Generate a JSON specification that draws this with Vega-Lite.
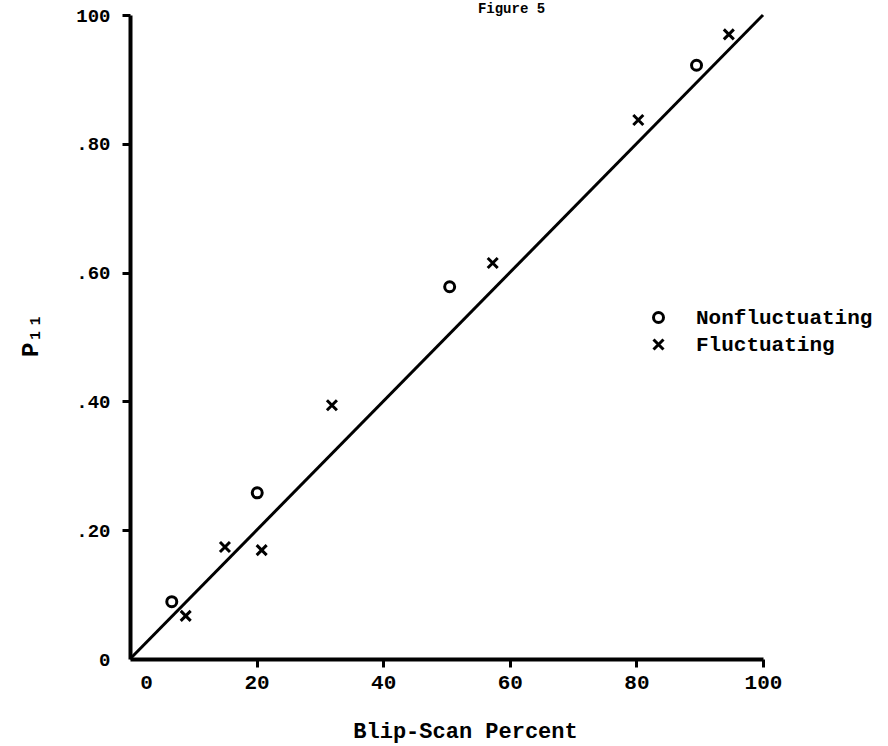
{
  "$schema": "https://vega.github.io/schema/vega-lite/v6.json",
  "width": 633,
  "height": 644,
  "autosize": {"type": "none"},
  "padding": {"left": 130, "top": 15, "right": 125, "bottom": 87},
  "background": "white",
  "config": {
    "view": {"stroke": null},
    "font": "Liberation Mono"
  },
  "title": {
    "text": "Figure 5",
    "anchor": "middle",
    "frame": "group",
    "dx": 65,
    "dy": 0,
    "offset": -21,
    "baseline": "alphabetic",
    "font": "Liberation Mono",
    "fontSize": 14,
    "fontWeight": "bold",
    "color": "black"
  },
  "datasets": {
    "points": [
      {"blip": 6.6, "p11": 0.089, "type": "Nonfluctuating"},
      {"blip": 20.1, "p11": 0.258, "type": "Nonfluctuating"},
      {"blip": 50.5, "p11": 0.578, "type": "Nonfluctuating"},
      {"blip": 89.5, "p11": 0.922, "type": "Nonfluctuating"},
      {"blip": 8.8, "p11": 0.067, "type": "Fluctuating"},
      {"blip": 15.0, "p11": 0.174, "type": "Fluctuating"},
      {"blip": 20.8, "p11": 0.169, "type": "Fluctuating"},
      {"blip": 31.9, "p11": 0.394, "type": "Fluctuating"},
      {"blip": 57.3, "p11": 0.615, "type": "Fluctuating"},
      {"blip": 80.3, "p11": 0.837, "type": "Fluctuating"},
      {"blip": 94.6, "p11": 0.970, "type": "Fluctuating"}
    ],
    "fit": [
      {"blip": 0, "p11": 0},
      {"blip": 100, "p11": 1.0}
    ]
  },
  "layer": [
    {
      "data": {"name": "fit"},
      "mark": {"type": "line", "color": "black", "strokeWidth": 3},
      "encoding": {
        "x": {"field": "blip", "type": "quantitative"},
        "y": {"field": "p11", "type": "quantitative"}
      }
    },
    {
      "data": {"name": "points"},
      "mark": {"type": "point", "filled": false, "color": "black", "strokeWidth": 3, "size": 100, "opacity": 1},
      "encoding": {
        "x": {
          "field": "blip",
          "type": "quantitative",
          "scale": {"domain": [0, 100], "nice": false, "zero": false},
          "axis": {
            "values": [0, 20, 40, 60, 80, 100],
            "title": "Blip-Scan Percent",
            "titleFont": "Liberation Mono",
            "titleFontSize": 22,
            "titleFontWeight": "bold",
            "titleColor": "black",
            "titleX": 335,
            "titleY": 78,
            "titleBaseline": "alphabetic",
            "grid": false,
            "domainColor": "black",
            "domainWidth": 4,
            "tickColor": "black",
            "tickWidth": 3,
            "tickSize": 8,
            "tickOpacity": {"condition": {"test": "datum.value == 0", "value": 0}, "value": 1},
            "labelFont": "Liberation Mono",
            "labelFontSize": 21,
            "labelFontWeight": "bold",
            "labelColor": "black",
            "labelPadding": 4,
            "labelOffset": {"condition": {"test": "datum.value == 0", "value": 16}, "value": 0},
            "labelFlush": false,
            "labelOverlap": false
          }
        },
        "y": {
          "field": "p11",
          "type": "quantitative",
          "scale": {"domain": [0, 1], "nice": false, "zero": false},
          "axis": {
            "values": [0, 0.2, 0.4, 0.6, 0.8, 1],
            "labelExpr": "datum.value == 1 ? '100' : datum.value == 0 ? '0' : replace(format(datum.value, '.2f'), '0.', '.')",
            "title": "P₁₁",
            "titleFont": "Liberation Mono",
            "titleFontSize": 24,
            "titleFontWeight": "bold",
            "titleColor": "black",
            "titleAngle": -90,
            "titleX": -100,
            "titleY": 320,
            "titleBaseline": "middle",
            "titleAlign": "center",
            "grid": false,
            "domainColor": "black",
            "domainWidth": 4,
            "tickColor": "black",
            "tickWidth": 3,
            "tickSize": 8,
            "tickOpacity": {"condition": {"test": "datum.value == 0", "value": 0}, "value": 1},
            "labelFont": "Liberation Mono",
            "labelFontSize": 19,
            "labelFontWeight": "bold",
            "labelColor": "black",
            "labelPadding": 12,
            "labelFlush": false,
            "labelOverlap": false
          }
        },
        "shape": {
          "field": "type",
          "type": "nominal",
          "scale": {
            "domain": ["Nonfluctuating", "Fluctuating"],
            "range": ["circle", "M-1,-1L1,1M-1,1L1,-1"]
          },
          "legend": {
            "title": null,
            "orient": "none",
            "legendX": 518,
            "legendY": 292,
            "labelFont": "Liberation Mono",
            "labelFontSize": 21,
            "labelFontWeight": "bold",
            "labelColor": "black",
            "labelLimit": 0,
            "labelOffset": 27,
            "symbolSize": 100,
            "symbolStrokeWidth": 3,
            "symbolStrokeColor": "black",
            "symbolFillColor": "transparent",
            "rowPadding": 4
          }
        }
      }
    }
  ]
}
